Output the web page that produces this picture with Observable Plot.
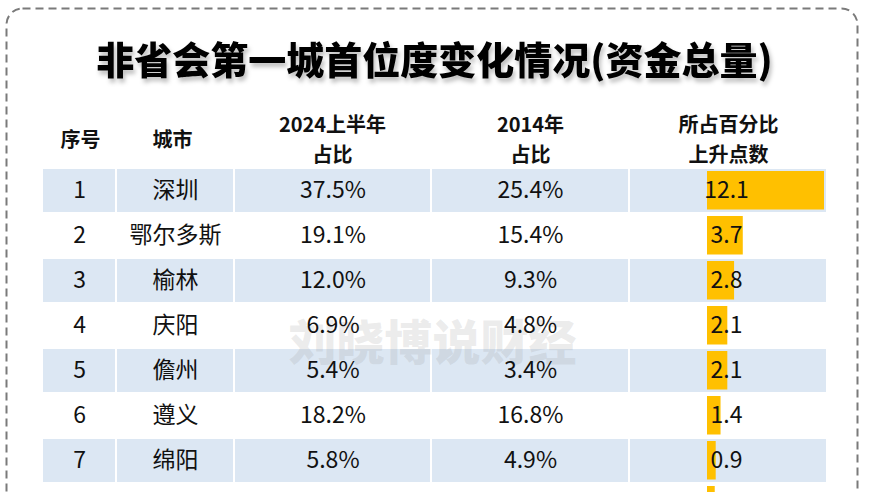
<!DOCTYPE html>
<html><head><meta charset="utf-8">
<script src="https://cdn.jsdelivr.net/npm/d3@7"></script>
<script src="https://cdn.jsdelivr.net/npm/@observablehq/plot@0.6"></script>
<style>
body{margin:0;background:#fff;}
#wrap{position:relative;width:870px;height:492px;overflow:hidden;background:#fff;}
#wrap svg{position:absolute;left:0;top:0;}
</style></head><body><div id="wrap"></div>
<script>
// ---- data ----
const title = "非省会第一城首位度变化情况(资金总量)";
const watermark = "刘晓博说财经";
const headers = ["序号", "城市", "2024上半年\n占比", "2014年\n占比", "所占百分比\n上升点数"];
const ranks = ["1", "2", "3", "4", "5", "6", "7", "8"];
const cities = ["深圳", "鄂尔多斯", "榆林", "庆阳", "儋州", "遵义", "绵阳", null];
const share2024 = [37.5, 19.1, 12.0, 6.9, 5.4, 18.2, 5.8, null];
const share2014 = [25.4, 15.4, 9.3, 4.8, 3.4, 16.8, 4.9, null];
const risePoints = [12.1, 3.7, 2.8, 2.1, 2.1, 1.4, 0.9, 0.8];
const riseLabels = ["12.1", "3.7", "2.8", "2.1", "2.1", "1.4", "0.9", null];

// ---- layout (pixels) ----
const colLeft = [43, 117, 235, 432, 630];
const colRight = [115, 233, 430, 628, 826];
const colCenter = colLeft.map((l, i) => (l + colRight[i]) / 2);
const headerX = [80, 172, 332, 530, 728];
const barStart = 707, barEnd = 824;

const rows = ranks.map((r, i) => ({
  rank: r, city: cities[i], s24: share2024[i], s14: share2014[i],
  rise: risePoints[i], riseLabel: riseLabels[i]
}));
const shaded = [];
rows.forEach((d, i) => {
  if (i % 2 === 0) colLeft.forEach((l, c) => shaded.push({rank: d.rank, x1: l, x2: colRight[c]}));
});
const full = rows.filter(d => d.city);

const W = 870, H = 492;
const yScale = {type: "band", domain: ranks, range: [167, 528.6], paddingInner: 0.05, paddingOuter: 0.025, axis: null};
const xPix = {type: "linear", domain: [0, W], range: [0, W], axis: null};
const FONT = "'Noto Sans CJK SC', 'Noto Sans', sans-serif";

const base = Plot.plot({
  width: W, height: H, margin: 0,
  x: xPix, y: yScale,
  style: {background: "white"},
  marks: [
    Plot.barX(shaded, {x1: "x1", x2: "x2", y: "rank", fill: "#dce7f3"}),
    Plot.frame({stroke: "#7a7a7a", strokeWidth: 2, strokeDasharray: "8,5", rx: 16,
      insetLeft: 6, insetTop: 8, insetRight: 13, insetBottom: -30})
  ]
});

const bars = Plot.plot({
  width: W, height: H, margin: 0,
  x: {type: "linear", domain: [0, 12.1], range: [barStart, barEnd], axis: null},
  y: yScale,
  style: {background: "transparent"},
  marks: [
    Plot.barX(rows, {x: "rise", y: "rank", fill: "#ffc000", insetTop: 2, insetBottom: 2.5})
  ]
});

const texts = Plot.plot({
  width: W, height: H, margin: 0,
  x: xPix, y: yScale,
  style: {background: "transparent"},
  marks: [
    // title with soft shadow
    Plot.text([title], {x: () => 434, frameAnchor: "top", lineAnchor: "middle", dy: 61, text: d => d,
      fontFamily: FONT, fontWeight: 900, fontSize: 38, fill: "#000",
      imageFilter: "drop-shadow(2px 4px 2px rgba(0,0,0,0.25))"}),
    // headers
    Plot.text(headers, {x: d => headerX[headers.indexOf(d)], frameAnchor: "top", lineAnchor: "middle", dy: 137,
      text: d => d, lineHeight: 1.5, fontFamily: FONT, fontWeight: "bold", fontSize: 20, fill: "#111"}),
    // watermark
    Plot.text([watermark], {x: () => 432, frameAnchor: "top", lineAnchor: "middle", dy: 344, text: d => d,
      fontFamily: FONT, fontWeight: 900, fontSize: 48, fill: "#9a9a9a", fillOpacity: 0.2}),
    // cells
    Plot.text(full, {x: () => colCenter[0], y: "rank", text: "rank", fontFamily: FONT, fontSize: 23, fill: "#111"}),
    Plot.text(full, {x: () => colCenter[1], y: "rank", text: "city", fontFamily: FONT, fontSize: 23, fill: "#111"}),
    Plot.text(full, {x: () => colCenter[2], y: "rank", text: d => d.s24.toFixed(1) + "%", fontFamily: FONT, fontSize: 23, fill: "#111"}),
    Plot.text(full, {x: () => colCenter[3], y: "rank", text: d => d.s14.toFixed(1) + "%", fontFamily: FONT, fontSize: 23, fill: "#111"}),
    Plot.text(rows.filter(d => d.riseLabel), {x: () => colCenter[4] - 2, y: "rank", text: "riseLabel", fontFamily: FONT, fontSize: 23, fill: "#111"})
  ]
});

const wrap = document.getElementById("wrap");
wrap.append(base, bars, texts);
</script>
</body></html>
